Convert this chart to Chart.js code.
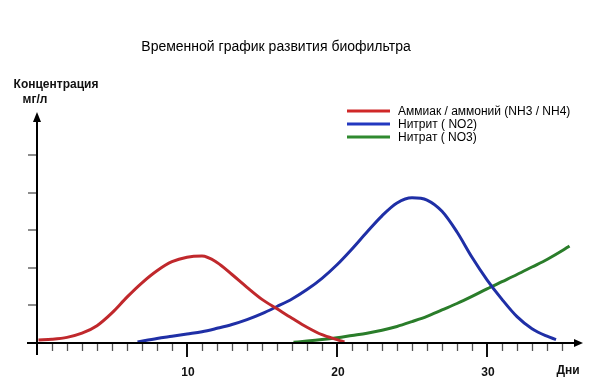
<!DOCTYPE html>
<html>
<head>
<meta charset="utf-8">
<script src="https://cdn.jsdelivr.net/npm/chart.js@4.4.0/dist/chart.umd.min.js"></script>
<style>
html,body{margin:0;padding:0;background:#fff;}
#wrap{width:600px;height:391px;position:relative;}
</style>
</head>
<body>
<div id="wrap"><canvas id="c"></canvas></div>
<script>
// ---- data (days, concentration mg/l) ----
const chartTitle = "Временной график развития биофильтра";
const yAxisTitle = ["Концентрация", "мг/л"];
const xAxisTitle = "Дни";
const seriesNames = ["Аммиак / аммоний (NH3 / NH4)", "Нитрит ( NO2)", "Нитрат ( NO3)"];
const xTickLabels = [10, 20, 30];
const yTickValues = [1, 2, 3, 4, 5];

const ammoniaDays = [0.1, 1, 2, 3, 4, 5, 6, 7, 8, 9, 10, 11, 12, 13, 14, 15, 16, 17, 18, 19, 20, 20.5];
const ammoniaVals = [0.08, 0.10, 0.15, 0.26, 0.46, 0.80, 1.22, 1.60, 1.92, 2.16, 2.28, 2.31, 2.14, 1.82, 1.48, 1.16, 0.91, 0.66, 0.42, 0.22, 0.09, 0.03];

const nitriteDays = [6.7, 8, 9, 10, 11, 12, 13, 14, 15, 16, 17, 18, 19, 20, 21, 22, 23, 24, 25, 26, 27, 28, 29, 30, 31, 32, 33, 34, 34.6];
const nitriteVals = [0.03, 0.12, 0.18, 0.24, 0.30, 0.39, 0.49, 0.62, 0.78, 0.97, 1.17, 1.42, 1.72, 2.08, 2.50, 2.95, 3.38, 3.72, 3.86, 3.80, 3.50, 2.95, 2.28, 1.68, 1.16, 0.70, 0.38, 0.18, 0.09];

const nitrateDays = [17.1, 18, 19, 20, 21, 22, 23, 24, 25, 26, 27, 28, 29, 30, 31, 32, 33, 34, 35, 35.5];
const nitrateVals = [0.02, 0.05, 0.09, 0.14, 0.20, 0.26, 0.34, 0.44, 0.57, 0.71, 0.88, 1.05, 1.24, 1.44, 1.63, 1.82, 2.02, 2.22, 2.45, 2.58];

const lineColors = ["#c0282c", "#1f2fa6", "#2a7d2a"];
const legendColors = ["#d02828", "#2338c0", "#2f8a2f"];

function pts(xs, ys){ return xs.map((x,i)=>({x:x, y:ys[i]})); }

const FONT = "'Liberation Sans', Arial, sans-serif";

const axesPlugin = {
  id: 'axesPlugin',
  afterDraw(chart){
    const ctx = chart.ctx;
    const xs = chart.scales.x, ys = chart.scales.y;
    const x0 = xs.getPixelForValue(0), y0 = ys.getPixelForValue(0);
    const xEnd = xs.getPixelForValue(xs.max), yTop = ys.getPixelForValue(ys.max);
    ctx.save();
    // minor x ticks
    ctx.strokeStyle = '#555'; ctx.lineWidth = 1.3;
    for(let d=1; d<xs.max; d++){
      if (xTickLabels.includes(d)) continue;
      const px = Math.round(xs.getPixelForValue(d))+0.5;
      ctx.beginPath(); ctx.moveTo(px, y0); ctx.lineTo(px, y0+8); ctx.stroke();
    }
    // major x ticks
    ctx.strokeStyle = '#111'; ctx.lineWidth = 2;
    xTickLabels.forEach(d=>{
      const px = Math.round(xs.getPixelForValue(d));
      ctx.beginPath(); ctx.moveTo(px, y0); ctx.lineTo(px, y0+14); ctx.stroke();
    });
    // y ticks
    ctx.strokeStyle = '#666'; ctx.lineWidth = 1.5;
    yTickValues.forEach(v=>{
      const py = Math.round(ys.getPixelForValue(v));
      ctx.beginPath(); ctx.moveTo(x0-9, py); ctx.lineTo(x0, py); ctx.stroke();
    });
    // axes
    ctx.strokeStyle = '#000'; ctx.lineWidth = 2;
    ctx.beginPath(); ctx.moveTo(x0-10, y0); ctx.lineTo(xEnd, y0); ctx.stroke();
    ctx.beginPath(); ctx.moveTo(x0, y0+12); ctx.lineTo(x0, yTop+4); ctx.stroke();
    // arrows
    ctx.fillStyle = '#000';
    ctx.beginPath(); ctx.moveTo(xEnd+6, y0); ctx.lineTo(xEnd-3, y0-4); ctx.lineTo(xEnd-3, y0+4); ctx.closePath(); ctx.fill();
    ctx.beginPath(); ctx.moveTo(x0, yTop-3); ctx.lineTo(x0-4, yTop+7); ctx.lineTo(x0+4, yTop+7); ctx.closePath(); ctx.fill();
    // x labels
    ctx.fillStyle = '#111';
    ctx.font = 'bold 12px ' + FONT;
    ctx.textAlign = 'center'; ctx.textBaseline = 'middle';
    xTickLabels.forEach(d=>{
      ctx.fillText(String(d), xs.getPixelForValue(d)+1, y0+30);
    });
    ctx.fillText(xAxisTitle, 568, y0+28);
    // y title
    ctx.fillText(yAxisTitle[0], 56, 85);
    ctx.fillText(yAxisTitle[1], 35, 100);
    // title
    ctx.font = '14px ' + FONT;
    ctx.fillStyle = '#000';
    ctx.fillText(chartTitle, 276, 47);
    // legend
    ctx.textAlign = 'left';
    ctx.font = '12px ' + FONT;
    const ly = [111, 124, 137];
    seriesNames.forEach((n,i)=>{
      ctx.strokeStyle = legendColors[i]; ctx.lineWidth = 3;
      ctx.beginPath(); ctx.moveTo(347, ly[i]); ctx.lineTo(390, ly[i]); ctx.stroke();
      ctx.fillStyle = '#000';
      ctx.fillText(n, 398, ly[i]+1);
    });
    ctx.restore();
  }
};

new Chart(document.getElementById('c'), {
  type: 'line',
  data: {
    datasets: [
      {label: seriesNames[0], data: pts(ammoniaDays, ammoniaVals), borderColor: lineColors[0]},
      {label: seriesNames[1], data: pts(nitriteDays, nitriteVals), borderColor: lineColors[1]},
      {label: seriesNames[2], data: pts(nitrateDays, nitrateVals), borderColor: lineColors[2]}
    ]
  },
  options: {
    responsive: true,
    maintainAspectRatio: false,
    animation: false,
    layout: {padding: {left: 37, right: 23, top: 115, bottom: 48}},
    elements: {
      point: {radius: 0, hoverRadius: 0},
      line: {borderWidth: 3, cubicInterpolationMode: 'monotone', fill: false}
    },
    scales: {
      x: {type: 'linear', min: 0, max: 36, display: false},
      y: {type: 'linear', min: 0, max: 6.06, display: false}
    },
    plugins: {legend: {display: false}, title: {display: false}, tooltip: {enabled: false}}
  },
  plugins: [axesPlugin]
});
</script>
</body>
</html>
